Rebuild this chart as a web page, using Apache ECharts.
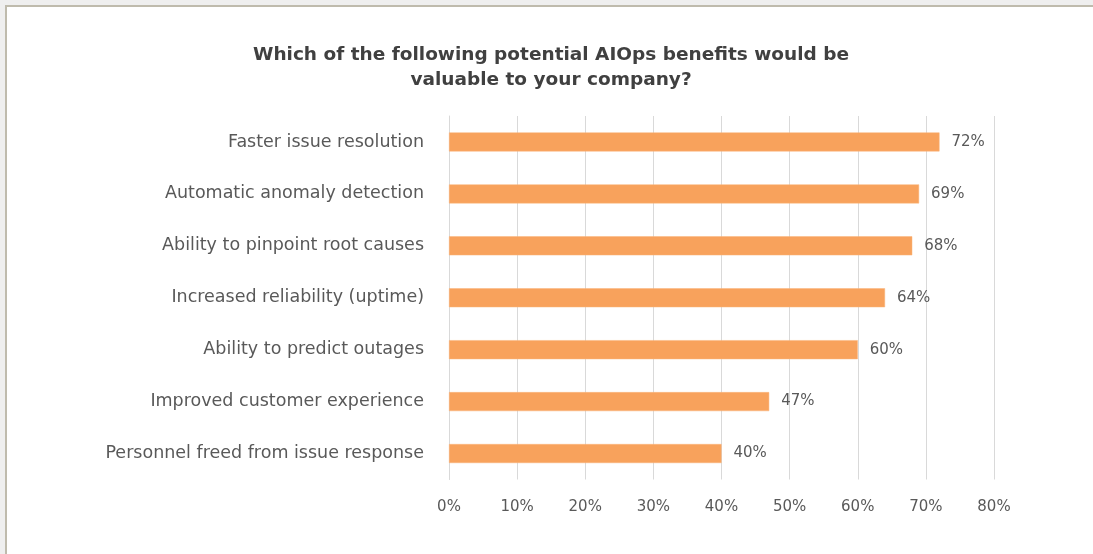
<!DOCTYPE html>
<html>
<head>
<meta charset="utf-8">
<script src="https://cdn.jsdelivr.net/npm/echarts@6/dist/echarts.min.js"></script>
<style>
  html, body { margin: 0; padding: 0; background: #efefef; width: 1093px; height: 554px; overflow: hidden; }
  #frame { position: absolute; left: 5px; top: 5px; width: 1088px; height: 549px; background: #ffffff;
           border-top: 2px solid #bfbbad; border-left: 2px solid #bfbbad; box-sizing: border-box; }
  #chart { position: absolute; left: 0; top: 0; width: 1093px; height: 554px; }
</style>
</head>
<body>
<div id="frame"></div>
<div id="chart"></div>
<script>
const titleLines = ["Which of the following potential AIOps benefits would be", "valuable to your company?"];
const categories = [
  "Faster issue resolution",
  "Automatic anomaly detection",
  "Ability to pinpoint root causes",
  "Increased reliability (uptime)",
  "Ability to predict outages",
  "Improved customer experience",
  "Personnel freed from issue response"
];
const values = [72, 69, 68, 64, 60, 47, 40];
const xTicks = { min: 0, max: 80, interval: 10 };

const chart = echarts.init(document.getElementById('chart'), null, { renderer: 'canvas' });
const font = 'DejaVu Sans';
chart.setOption({
  backgroundColor: 'transparent',
  animation: false,
  title: {
    text: titleLines.join('\n'),
    left: 551, textAlign: 'center',
    top: 43, padding: 0,
    textStyle: { fontFamily: font, fontSize: 18.5, fontWeight: 'bold', color: '#404040', lineHeight: 24.5 }
  },
  grid: { left: 449, right: 99, top: 116, bottom: 74.5, containLabel: false },
  xAxis: {
    type: 'value', min: xTicks.min, max: xTicks.max, interval: xTicks.interval,
    axisLine: { show: false }, axisTick: { show: false },
    splitLine: { show: true, lineStyle: { color: '#d9d9d9', width: 1 } },
    axisLabel: { formatter: '{value}%', color: '#595959', fontFamily: font, fontSize: 15, margin: 20 }
  },
  yAxis: {
    type: 'category', data: categories, inverse: true,
    axisLine: { show: true, lineStyle: { color: '#d9d9d9' } },
    axisTick: { show: false },
    axisLabel: { color: '#595959', fontFamily: font, fontSize: 17.5, margin: 25 }
  },
  series: [{
    type: 'bar', data: values, barWidth: 19,
    itemStyle: { color: '#F8A25C', borderColor: '#FAB57A', borderWidth: 0.5 },
    label: { show: true, position: 'right', distance: 12, formatter: '{c}%', color: '#595959', fontFamily: font, fontSize: 15 }
  }]
});
</script>
</body>
</html>
